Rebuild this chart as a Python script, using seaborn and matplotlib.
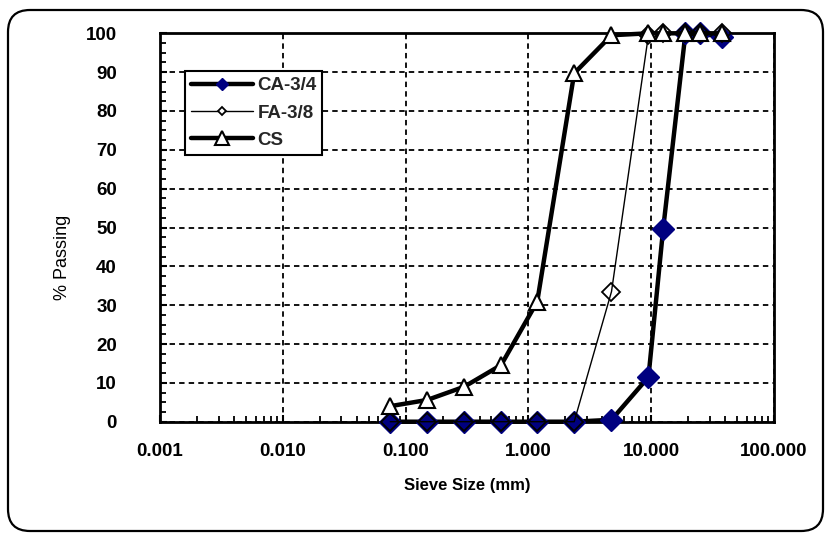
import matplotlib
matplotlib.use('Agg')
import matplotlib.pyplot as plt
from matplotlib.patches import FancyBboxPatch
from matplotlib.ticker import LogLocator, MultipleLocator, FixedLocator, NullFormatter
import seaborn as sns

# sieve sizes (mm) and % passing
sieve_mm = [0.075, 0.15, 0.3, 0.6, 1.18, 2.36, 4.75, 9.5, 12.5, 19.0, 25.0, 37.5]
ca_34 = [0, 0, 0, 0, 0, 0, 0.5, 11.5, 49.5, 100, 100, 99]
fa_38 = [0, 0, 0, 0, 0, 0, 33.5, 99.6, 100, 100, 100, 100]
cs = [4, 5.6, 9, 14.6, 30.9, 89.7, 99.5, 100, 100, 100, 100, 100]

x_ticks = [0.001, 0.01, 0.1, 1, 10, 100]
x_tick_labels = ['0.001', '0.010', '0.100', '1.000', '10.000', '100.000']
y_ticks = list(range(0, 101, 10))

sns.set_theme(style='white')
plt.rcParams['font.family'] = ['Liberation Sans', 'DejaVu Sans']

fig = plt.figure(figsize=(8.27, 5.36), dpi=100)
fig.patch.set_facecolor('white')
ax = fig.add_axes([160/827, 1-421.7/536, (774-160)/827, (421.7-33.3)/536])

sns.lineplot(x=sieve_mm, y=ca_34, ax=ax, sort=False, color='black', lw=3.2,
             marker='D', ms=11, mfc='#000080', mec='#000080', mew=1,
             label='CA-3/4', clip_on=False, zorder=3)
sns.lineplot(x=sieve_mm, y=fa_38, ax=ax, sort=False, color='black', lw=1,
             marker='D', ms=9, mfc='none', mec='black', mew=1.3,
             label='FA-3/8', clip_on=False, zorder=4)
sns.lineplot(x=sieve_mm, y=cs, ax=ax, sort=False, color='black', lw=3.2,
             marker='^', ms=12, mfc='white', mec='black', mew=1.5,
             label='CS', clip_on=False, zorder=5)

ax.set_xscale('log')
ax.set_xlim(0.001, 100)
ax.set_ylim(0, 100)
ax.xaxis.set_major_locator(FixedLocator(x_ticks))
ax.set_xticklabels(x_tick_labels)
ax.xaxis.set_minor_locator(LogLocator(base=10, subs=range(2, 10), numticks=20))
ax.xaxis.set_minor_formatter(NullFormatter())
ax.set_yticks(y_ticks)
ax.yaxis.set_minor_locator(MultipleLocator(2.5))

ax.grid(True, which='major', color='black', ls=(0, (3, 2.3)), lw=1.3, zorder=1)
ax.set_axisbelow(True)
for sp in ax.spines.values():
    sp.set_color('black'); sp.set_linewidth(2)

ax.tick_params(axis='both', which='both', direction='in', color='black',
               bottom=True, left=True, top=False, right=False)
ax.tick_params(which='major', length=5, width=1.5)
ax.tick_params(which='minor', length=4, width=1.3)
ax.tick_params(axis='x', which='major', pad=15)
ax.tick_params(axis='y', which='major', pad=31)
for lab in ax.get_xticklabels() + ax.get_yticklabels():
    lab.set_fontsize(13.5); lab.set_fontweight('bold'); lab.set_color('black')

ax.set_xlabel('Sieve Size (mm)', fontsize=12, fontweight='bold', color='black')
ax.xaxis.set_label_coords(0.5, -0.165)
ax.xaxis.label.set_va('center')
ax.set_ylabel('% Passing', fontsize=13, color='black')
ax.yaxis.set_label_coords(-0.158, 0.424)
ax.yaxis.label.set_va('center')

handles, labels = ax.get_legend_handles_labels()
leg = ax.legend(handles, labels, loc='upper left', bbox_to_anchor=(0.041, 0.902),
                borderaxespad=0, frameon=True, fancybox=False, framealpha=1,
                edgecolor='black', handlelength=3.3, handletextpad=0.25,
                labelspacing=0.55, borderpad=0.3,
                prop={'weight': 'bold', 'size': 13.5})
leg.get_frame().set_linewidth(1.5)
leg_sizes = [6.6, 4.2, 9.5]
for ln, ms in zip(leg.get_lines(), leg_sizes):
    ln.set_markersize(ms)
leg.get_lines()[1].set_markerfacecolor('white')

# rounded outer frame of the chart area
fig.add_artist(FancyBboxPatch((8, 5), 815, 521, boxstyle='round,pad=0,rounding_size=22',
                              transform=None, facecolor='none', edgecolor='black', lw=1.6))

fig.savefig('out.png', dpi=100)
